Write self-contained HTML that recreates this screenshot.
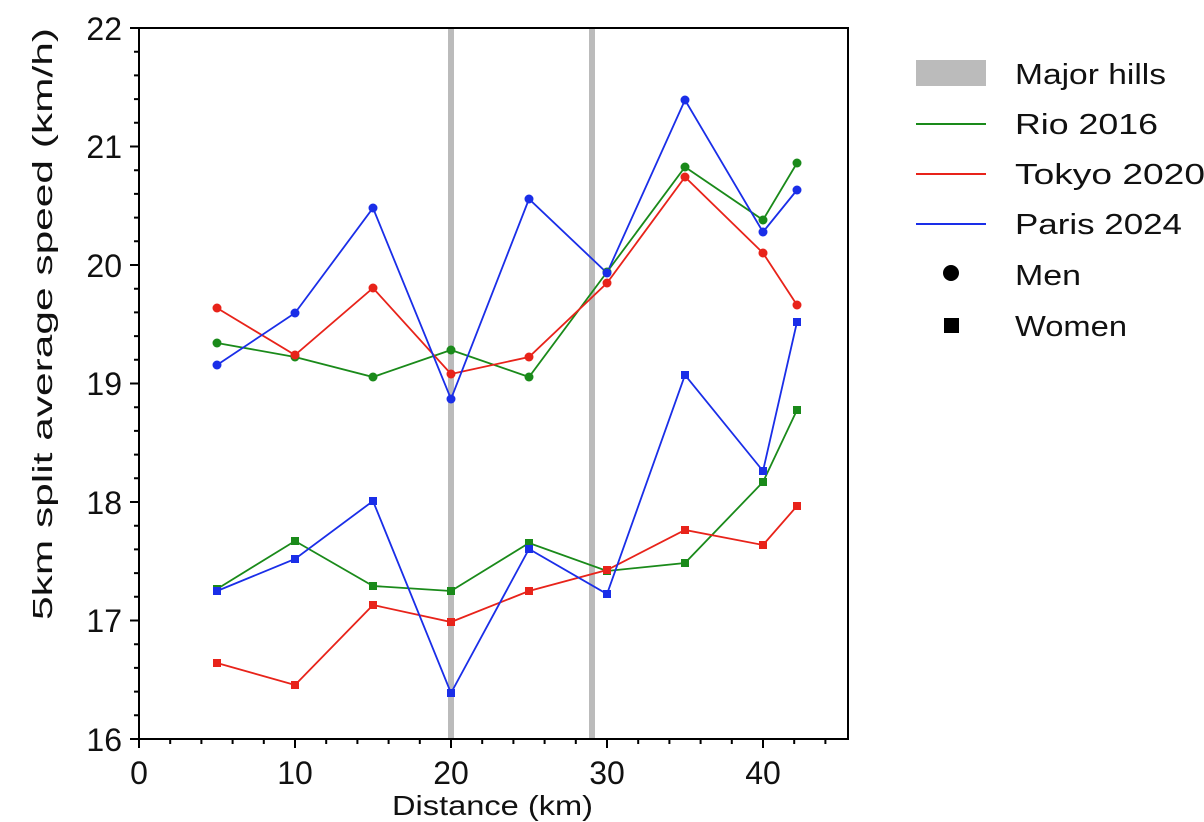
<!DOCTYPE html><html><head><style>body{margin:0;background:#fff}svg{display:block}text{font-family:"Liberation Sans",sans-serif;fill:#111}</style></head><body>
<svg width="1204" height="822" viewBox="0 0 1204 822">
<rect x="448" y="28" width="6" height="711" fill="#bbb"/>
<rect x="589" y="28" width="6" height="711" fill="#bbb"/>
<g fill="none" stroke-width="1.8">
<polyline stroke="#1a8a1a" points="217,343 295,357 373,377 451,350 529,377 607,272 685,167 763,220 797,163"/>
<polyline stroke="#e8231a" points="217,308 295,355 373,288 451,374 529,357 607,283 685,177 763,253 797,305"/>
<polyline stroke="#1a2ee8" points="217,365 295,313 373,208 451,399 529,199 607,273 685,100 763,232 797,190"/>
<polyline stroke="#1a8a1a" points="217,589 295,541 373,586 451,591 529,543 607,571 685,563 763,482 797,410"/>
<polyline stroke="#e8231a" points="217,663 295,685 373,605 451,622 529,591 607,570 685,530 763,545 797,506"/>
<polyline stroke="#1a2ee8" points="217,591 295,559 373,501 451,693 529,549 607,594 685,375 763,471 797,322"/>
</g>
<g fill="#1a8a1a"><circle cx="217" cy="343" r="4.5"/><circle cx="295" cy="357" r="4.5"/><circle cx="373" cy="377" r="4.5"/><circle cx="451" cy="350" r="4.5"/><circle cx="529" cy="377" r="4.5"/><circle cx="607" cy="272" r="4.5"/><circle cx="685" cy="167" r="4.5"/><circle cx="763" cy="220" r="4.5"/><circle cx="797" cy="163" r="4.5"/></g>
<g fill="#e8231a"><circle cx="217" cy="308" r="4.5"/><circle cx="295" cy="355" r="4.5"/><circle cx="373" cy="288" r="4.5"/><circle cx="451" cy="374" r="4.5"/><circle cx="529" cy="357" r="4.5"/><circle cx="607" cy="283" r="4.5"/><circle cx="685" cy="177" r="4.5"/><circle cx="763" cy="253" r="4.5"/><circle cx="797" cy="305" r="4.5"/></g>
<g fill="#1a2ee8"><circle cx="217" cy="365" r="4.5"/><circle cx="295" cy="313" r="4.5"/><circle cx="373" cy="208" r="4.5"/><circle cx="451" cy="399" r="4.5"/><circle cx="529" cy="199" r="4.5"/><circle cx="607" cy="273" r="4.5"/><circle cx="685" cy="100" r="4.5"/><circle cx="763" cy="232" r="4.5"/><circle cx="797" cy="190" r="4.5"/></g>
<g fill="#1a8a1a"><rect x="213" y="585" width="8" height="8"/><rect x="291" y="537" width="8" height="8"/><rect x="369" y="582" width="8" height="8"/><rect x="447" y="587" width="8" height="8"/><rect x="525" y="539" width="8" height="8"/><rect x="603" y="567" width="8" height="8"/><rect x="681" y="559" width="8" height="8"/><rect x="759" y="478" width="8" height="8"/><rect x="793" y="406" width="8" height="8"/></g>
<g fill="#e8231a"><rect x="213" y="659" width="8" height="8"/><rect x="291" y="681" width="8" height="8"/><rect x="369" y="601" width="8" height="8"/><rect x="447" y="618" width="8" height="8"/><rect x="525" y="587" width="8" height="8"/><rect x="603" y="566" width="8" height="8"/><rect x="681" y="526" width="8" height="8"/><rect x="759" y="541" width="8" height="8"/><rect x="793" y="502" width="8" height="8"/></g>
<g fill="#1a2ee8"><rect x="213" y="587" width="8" height="8"/><rect x="291" y="555" width="8" height="8"/><rect x="369" y="497" width="8" height="8"/><rect x="447" y="689" width="8" height="8"/><rect x="525" y="545" width="8" height="8"/><rect x="603" y="590" width="8" height="8"/><rect x="681" y="371" width="8" height="8"/><rect x="759" y="467" width="8" height="8"/><rect x="793" y="318" width="8" height="8"/></g>
<rect x="139" y="28" width="709" height="711" fill="none" stroke="#000" stroke-width="2"/>
<g stroke="#000" stroke-width="2">
<path d="M139 739v9M295 739v9M451 739v9M607 739v9M763 739v9"/>
<path d="M139 739h-9M139 620.5h-9M139 502h-9M139 383.5h-9M139 265h-9M139 146.5h-9M139 28h-9"/>
<path d="M170.2 739v5M201.4 739v5M232.6 739v5M263.8 739v5M326.2 739v5M357.4 739v5M388.6 739v5M419.8 739v5M482.2 739v5M513.4 739v5M544.6 739v5M575.8 739v5M638.2 739v5M669.4 739v5M700.6 739v5M731.8 739v5M794.2 739v5M825.4 739v5"/>
<path d="M139 715.3h-5M139 691.6h-5M139 667.9h-5M139 644.2h-5M139 596.8h-5M139 573.1h-5M139 549.4h-5M139 525.7h-5M139 478.3h-5M139 454.6h-5M139 430.9h-5M139 407.2h-5M139 359.8h-5M139 336.1h-5M139 312.4h-5M139 288.7h-5M139 241.3h-5M139 217.6h-5M139 193.9h-5M139 170.2h-5M139 122.8h-5M139 99.1h-5M139 75.4h-5M139 51.7h-5"/>
</g>
<g font-size="32" text-anchor="end">
<text x="122" y="751">16</text><text x="122" y="632">17</text><text x="122" y="514">18</text><text x="122" y="395">19</text><text x="122" y="277">20</text><text x="122" y="158">21</text><text x="122" y="40">22</text></g>
<g font-size="32" text-anchor="middle">
<text x="139" y="784">0</text><text x="295" y="784">10</text><text x="451" y="784">20</text><text x="607" y="784">30</text><text x="763" y="784">40</text></g>
<text x="392" y="815" font-size="28" textLength="201" lengthAdjust="spacingAndGlyphs">Distance (km)</text>
<text transform="translate(52,620) rotate(-90)" font-size="28" textLength="592" lengthAdjust="spacingAndGlyphs">5km split average speed (km/h)</text>
<rect x="916" y="60" width="70" height="26" fill="#bbb"/>
<line x1="916" y1="124" x2="986" y2="124" stroke="#1a8a1a" stroke-width="2"/>
<line x1="916" y1="174" x2="986" y2="174" stroke="#e8231a" stroke-width="2"/>
<line x1="916" y1="224" x2="986" y2="224" stroke="#1a2ee8" stroke-width="2"/>
<circle cx="951" cy="273" r="8" fill="#000"/>
<rect x="944" y="318" width="15" height="15" fill="#000"/>
<g font-size="29"><text x="1015" y="84" textLength="151" lengthAdjust="spacingAndGlyphs">Major hills</text><text x="1015" y="134" textLength="143" lengthAdjust="spacingAndGlyphs">Rio 2016</text><text x="1015" y="184" textLength="190" lengthAdjust="spacingAndGlyphs">Tokyo 2020</text><text x="1015" y="234" textLength="167" lengthAdjust="spacingAndGlyphs">Paris 2024</text><text x="1015" y="285" textLength="66" lengthAdjust="spacingAndGlyphs">Men</text><text x="1015" y="336" textLength="112" lengthAdjust="spacingAndGlyphs">Women</text></g>
</svg></body></html>
